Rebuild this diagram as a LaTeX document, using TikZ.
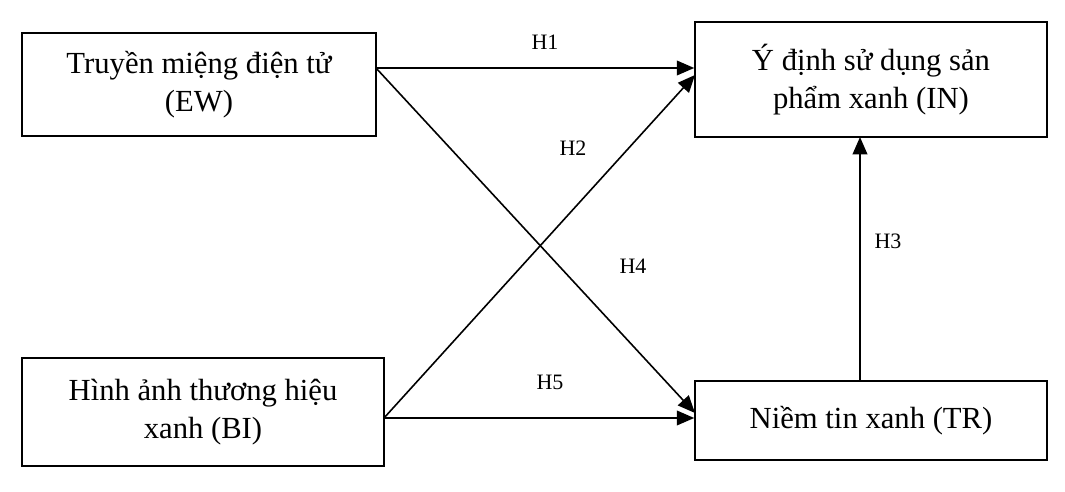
\documentclass[tikz,border=0pt]{standalone}
\usepackage{fontspec}
\setmainfont{Liberation Serif}
\usetikzlibrary{arrows.meta}
\begin{document}
\begin{tikzpicture}[x=0.75pt,y=-0.75pt,
box/.style={draw,line width=1.2pt,align=center,font=\fontsize{23}{29}\selectfont,inner sep=0pt},
arr/.style={line width=1.2pt,-{Triangle[length=13pt,width=11pt]}},
lab/.style={font=\fontsize{16.5}{19}\selectfont}]
\useasboundingbox (0,0) rectangle (1065,492);
\node[box,minimum width=354*0.75pt,minimum height=103*0.75pt] (EW) at (199,84.5) {Truyền miệng điện tử\\(EW)};
\node[box,minimum width=352*0.75pt,minimum height=115*0.75pt] (IN) at (871,79.5) {Ý định sử dụng sản\\phẩm xanh (IN)};
\node[box,minimum width=362*0.75pt,minimum height=108*0.75pt] (BI) at (203,412) {Hình ảnh thương hiệu\\xanh (BI)};
\node[box,minimum width=352*0.75pt,minimum height=79*0.75pt] (TR) at (871,420.5) {Niềm tin xanh (TR)};
\coordinate (ewo) at (376,68);
\coordinate (bio) at (384,418);
\draw[arr] (ewo) -- (IN.west |- ewo);
\draw[arr] (ewo) -- (695,413);
\draw[arr] (bio) -- (695,75);
\draw[arr] (bio) -- (TR.west |- bio);
\draw[arr] (860,381) -- (860,137);
\node[lab] (h1) at (545,42) {H1};
\node[lab] (h2) at (573,148) {H2};
\node[lab] (h4) at (633,266) {H4};
\node[lab] (h5) at (550,382) {H5};
\node[lab] (h3) at (888,241) {H3};
\end{tikzpicture}
\end{document}
